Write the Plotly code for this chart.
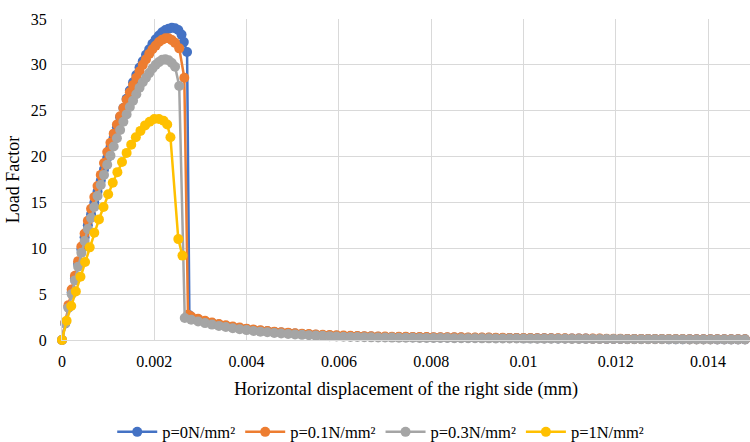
import plotly.graph_objects as go

# ---------------- data ----------------
SERIES_NAMES = ["p=0N/mm²", "p=0.1N/mm²", "p=0.3N/mm²", "p=1N/mm²"]
COLORS = ["#4472C4", "#ED7D31", "#A5A5A5", "#FFC000"]

# pre-peak / peak part of each curve
BLUE_X = [0, 0.00007, 0.00014, 0.00021, 0.00028, 0.00035, 0.00042, 0.00049, 0.00056, 0.00063,
          0.0007, 0.00077, 0.00084, 0.00091, 0.00098, 0.00105, 0.00112, 0.00119, 0.00126, 0.00133,
          0.0014, 0.00147, 0.00154, 0.00161, 0.00168, 0.00175, 0.00182, 0.00189, 0.00196, 0.00203,
          0.0021, 0.00217, 0.00224, 0.00231, 0.00238, 0.00245, 0.00252, 0.00259, 0.00264, 0.00271,
          0.00276]
BLUE_Y = [0, 1.8, 3.6, 5.2, 6.7, 8.3, 9.9, 11.2, 12.5, 13.7,
          14.95, 16.2, 17.4, 18.6, 19.85, 21.0, 22.1, 23.2, 24.3, 25.3,
          26.3, 27.2, 28.1, 28.9, 29.7, 30.4, 31.1, 31.7, 32.3, 32.8,
          33.2, 33.55, 33.8, 33.95, 34.05, 34.0, 33.8, 33.3, 32.5, 31.4,
          2.7]

ORANGE_X = [0, 0.00007, 0.00014, 0.00021, 0.00028, 0.00035, 0.00042, 0.00049, 0.00056, 0.00063,
            0.0007, 0.00077, 0.00084, 0.00091, 0.00098, 0.00105, 0.00112, 0.00119, 0.00126, 0.00133,
            0.0014, 0.00147, 0.00154, 0.00161, 0.00168, 0.00175, 0.00182, 0.00189, 0.00196, 0.00203,
            0.0021, 0.00217, 0.00224, 0.00231, 0.00238, 0.00245, 0.00254, 0.00265, 0.00273]
ORANGE_Y = [0, 1.9, 3.8, 5.5, 7.0, 8.6, 10.2, 11.6, 13.0, 14.3,
            15.6, 16.8, 18.0, 19.3, 20.5, 21.5, 22.5, 23.5, 24.4, 25.3,
            26.2, 27.0, 27.8, 28.6, 29.3, 30.0, 30.6, 31.2, 31.7, 32.1,
            32.5, 32.75, 32.9, 32.9, 32.7, 32.4, 31.8, 28.6,
            2.75]

GRAY_X = [0, 0.00007, 0.00014, 0.00021, 0.00028, 0.00035, 0.00042, 0.00049, 0.00056, 0.00063,
          0.0007, 0.00077, 0.00084, 0.00091, 0.00098, 0.00105, 0.00112, 0.00119, 0.00126, 0.00133,
          0.0014, 0.00147, 0.00154, 0.00161, 0.00168, 0.00175, 0.00182, 0.00189, 0.00196, 0.00203,
          0.0021, 0.00217, 0.00224, 0.00231, 0.00238, 0.00245, 0.00254, 0.00266]
GRAY_Y = [0, 1.8, 3.5, 5.0, 6.5, 8.0, 9.5, 10.8, 12.1, 13.3,
          14.5, 15.7, 16.9, 18.0, 19.1, 20.1, 21.1, 22.0, 22.9, 23.8,
          24.6, 25.4, 26.1, 26.8, 27.5, 28.1, 28.6, 29.1, 29.6, 30.0,
          30.3, 30.55, 30.6, 30.5, 30.2, 29.8, 27.7, 2.4]

YELLOW_X = [0, 0.0001, 0.0002, 0.0003, 0.0004, 0.0005, 0.0006, 0.0007, 0.0008, 0.0009,
            0.001, 0.0011, 0.0012, 0.0013, 0.0014, 0.0015, 0.0016, 0.0017, 0.0018, 0.0019,
            0.002, 0.0021, 0.0022, 0.00228, 0.00235, 0.00252, 0.00261]
YELLOW_Y = [0, 2.1, 3.7, 5.3, 6.9, 8.5, 10.1, 11.7, 13.15, 14.5,
            15.9, 17.15, 18.3, 19.4, 20.4, 21.3, 22.1, 22.8, 23.4, 23.8,
            24.1, 24.1, 23.9, 23.5, 22.1, 11.0, 9.2]

# post-failure tail (shared displacement steps)
TAIL_X = [0.0028, 0.00295, 0.0031, 0.00325, 0.0034, 0.00355, 0.0037, 0.00385, 0.004, 0.00415,
          0.0043, 0.00445, 0.0046, 0.00475, 0.0049, 0.00505, 0.0052, 0.00535, 0.0055, 0.00565,
          0.0058, 0.00595, 0.0061, 0.00625, 0.0064, 0.00655, 0.0067, 0.00685, 0.007, 0.00715,
          0.0073, 0.00745, 0.0076, 0.00775, 0.0079, 0.00805, 0.0082, 0.00835, 0.0085, 0.00865,
          0.0088, 0.00895, 0.0091, 0.00925, 0.0094, 0.00955, 0.0097, 0.00985, 0.01, 0.01015,
          0.0103, 0.01045, 0.0106, 0.01075, 0.0109, 0.01105, 0.0112, 0.01135, 0.0115, 0.01165,
          0.0118, 0.01195, 0.0121, 0.01225, 0.0124, 0.01255, 0.0127, 0.01285, 0.013, 0.01315,
          0.0133, 0.01345, 0.0136, 0.01375, 0.0139, 0.01405, 0.0142, 0.01435, 0.0145, 0.01465,
          0.0148, 0.01495]
GRAY_TAIL = [2.2, 2.01, 1.84, 1.68, 1.54, 1.41, 1.29, 1.18, 1.08, 0.99,
             0.91, 0.84, 0.77, 0.71, 0.66, 0.61, 0.56, 0.52, 0.48, 0.45,
             0.42, 0.39, 0.36, 0.34, 0.32, 0.31, 0.29, 0.28, 0.27, 0.26,
             0.25, 0.25, 0.24, 0.23, 0.23, 0.22, 0.21, 0.21, 0.20, 0.20,
             0.19, 0.19, 0.18, 0.18, 0.17, 0.17, 0.16, 0.16, 0.15, 0.15,
             0.14, 0.14, 0.14, 0.13, 0.13, 0.12, 0.12, 0.12, 0.11, 0.11,
             0.10, 0.10, 0.10, 0.09, 0.09, 0.09, 0.08, 0.08, 0.08, 0.07,
             0.07, 0.07, 0.06, 0.06, 0.06, 0.06, 0.05, 0.05, 0.05, 0.05,
             0.05, 0.04]
ORANGE_TAIL = [2.55, 2.31, 2.10, 1.91, 1.75, 1.60, 1.47, 1.35, 1.24, 1.15,
               1.06, 0.99, 0.91, 0.85, 0.80, 0.74, 0.69, 0.65, 0.60, 0.57,
               0.54, 0.51, 0.48, 0.45, 0.43, 0.42, 0.40, 0.39, 0.37, 0.36,
               0.35, 0.35, 0.34, 0.33, 0.32, 0.31, 0.30, 0.30, 0.29, 0.29,
               0.27, 0.27, 0.26, 0.26, 0.25, 0.24, 0.23, 0.23, 0.22, 0.22,
               0.20, 0.20, 0.20, 0.19, 0.18, 0.17, 0.17, 0.16, 0.15, 0.15,
               0.13, 0.13, 0.13, 0.12, 0.12, 0.12, 0.11, 0.11, 0.11, 0.10,
               0.10, 0.10, 0.09, 0.09, 0.09, 0.09, 0.08, 0.08, 0.08, 0.08,
               0.08, 0.07]
BLUE_TAIL = [2.45, 2.22, 2.02, 1.84, 1.69, 1.54, 1.42, 1.30, 1.19, 1.10,
             1.02, 0.95, 0.87, 0.81, 0.76, 0.70, 0.65, 0.61, 0.56, 0.53,
             0.50, 0.47, 0.44, 0.42, 0.40, 0.39, 0.37, 0.36, 0.34, 0.33,
             0.32, 0.32, 0.31, 0.30, 0.29, 0.28, 0.27, 0.27, 0.26, 0.26,
             0.25, 0.25, 0.24, 0.24, 0.23, 0.22, 0.21, 0.21, 0.20, 0.20,
             0.18, 0.18, 0.18, 0.17, 0.17, 0.16, 0.16, 0.15, 0.14, 0.14,
             0.12, 0.12, 0.12, 0.11, 0.11, 0.11, 0.10, 0.10, 0.10, 0.09,
             0.09, 0.09, 0.08, 0.08, 0.08, 0.08, 0.07, 0.07, 0.07, 0.07,
             0.07, 0.06]

X_TICKS = [0, 0.002, 0.004, 0.006, 0.008, 0.01, 0.012, 0.014]
X_TICK_TEXT = ["0", "0.002", "0.004", "0.006", "0.008", "0.01", "0.012", "0.014"]
Y_TICKS = [0, 5, 10, 15, 20, 25, 30, 35]
X_TITLE = "Horizontal displacement of the right side (mm)"
Y_TITLE = "Load Factor"

# ---------------- figure ----------------
series = [
    (BLUE_X + TAIL_X, BLUE_Y + BLUE_TAIL),
    (ORANGE_X + TAIL_X, ORANGE_Y + ORANGE_TAIL),
    (GRAY_X + TAIL_X, GRAY_Y + GRAY_TAIL),
    (YELLOW_X, YELLOW_Y),
]

FONT = "Liberation Serif"
TXT = "#000000"
GRID = "#D9D9D9"

fig = go.Figure()
for (xs, ys), name, col in zip(series, SERIES_NAMES, COLORS):
    fig.add_trace(go.Scatter(
        x=xs, y=ys, name=name, mode="lines+markers",
        line=dict(color=col, width=2.5),
        marker=dict(color=col, size=10, line=dict(width=0)),
        cliponaxis=False,
    ))

fig.update_layout(
    width=750, height=442,
    margin=dict(l=62, r=0, t=19, b=102, autoexpand=False),
    paper_bgcolor="white", plot_bgcolor="white",
    font=dict(family=FONT, size=16, color=TXT),
    showlegend=True,
    legend=dict(orientation="h", x=0.073, xanchor="left", y=-0.287, yanchor="middle",
                font=dict(family=FONT, size=16.5, color=TXT), itemwidth=40,
                tracegroupgap=0, bgcolor="rgba(0,0,0,0)"),
)
fig.update_xaxes(
    range=[0, 0.014908], tickvals=X_TICKS, ticktext=X_TICK_TEXT,
    showgrid=True, gridcolor=GRID, gridwidth=1,
    showline=True, linecolor=GRID, linewidth=1.3, zeroline=False,
    ticks="", ticklabelstandoff=7, automargin=False,
    tickfont=dict(family=FONT, size=16, color=TXT),
    title=dict(text=X_TITLE, font=dict(family=FONT, size=18.3, color=TXT), standoff=12),
)
fig.update_yaxes(
    range=[0, 35], tickvals=Y_TICKS,
    showgrid=True, gridcolor=GRID, gridwidth=1,
    showline=True, linecolor=GRID, linewidth=1, zeroline=False,
    ticks="", ticklabelstandoff=11, automargin=False,
    tickfont=dict(family=FONT, size=16, color=TXT),
    title=dict(text=Y_TITLE, font=dict(family=FONT, size=18, color=TXT), standoff=6),
)

fig.write_html("out.html")
